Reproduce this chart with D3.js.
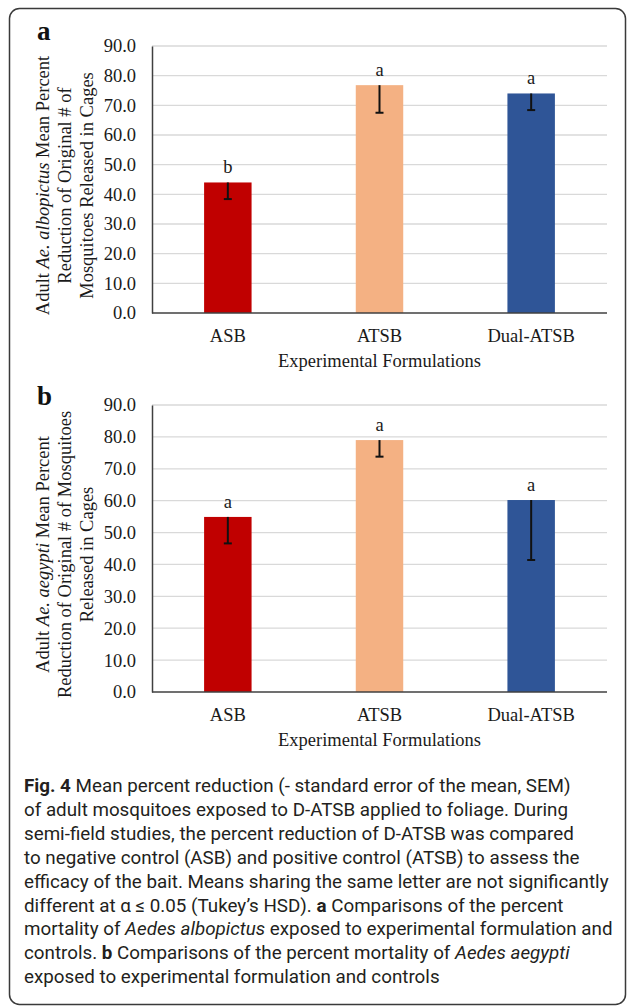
<!DOCTYPE html>
<html>
<head>
<meta charset="utf-8">
<script src="https://cdn.jsdelivr.net/npm/d3@7"></script>
<style>
  html, body { margin: 0; padding: 0; background: #fff; }
  svg { display: block; }
</style>
</head>
<body>
<div id="chart"></div>
<script>
const categories = ['ASB', 'ATSB', 'Dual-ATSB'];
const barColors = ['#C00000', '#F4B183', '#2F5597'];
const yTicks = [0, 10, 20, 30, 40, 50, 60, 70, 80, 90];

// panel a: Ae. albopictus
const albopictusMeans = [44.0, 76.8, 74.0];
const albopictusSem = [5.6, 9.3, 5.6];
const albopictusLetters = ['b', 'a', 'a'];

// panel b: Ae. aegypti
const aegyptiMeans = [54.9, 79.0, 60.2];
const aegyptiSem = [8.3, 5.2, 18.8];
const aegyptiLetters = ['a', 'a', 'a'];

const captionLines = [
  [{ t: 'Fig. 4', b: true }, { t: ' Mean percent reduction (- standard error of the mean, SEM)' }],
  [{ t: 'of adult mosquitoes exposed to D-ATSB applied to foliage. During' }],
  [{ t: 'semi-field studies, the percent reduction of D-ATSB was compared' }],
  [{ t: 'to negative control (ASB) and positive control (ATSB) to assess the' }],
  [{ t: 'efficacy of the bait. Means sharing the same letter are not significantly' }],
  [{ t: 'different at α ≤ 0.05 (Tukey’s HSD). ' }, { t: 'a', b: true }, { t: ' Comparisons of the percent' }],
  [{ t: 'mortality of ' }, { t: 'Aedes albopictus', i: true }, { t: ' exposed to experimental formulation and' }],
  [{ t: 'controls. ' }, { t: 'b', b: true }, { t: ' Comparisons of the percent mortality of ' }, { t: 'Aedes aegypti', i: true }],
  [{ t: 'exposed to experimental formulation and controls' }]
];

const width = 627;
const height = 1008;
const serif = '"Liberation Serif", "Times New Roman", serif';
const serifSize = '18.5px';

const svg = d3.select('#chart')
  .append('svg')
  .attr('width', width)
  .attr('height', height);

svg.append('rect')
  .attr('x', 9.5)
  .attr('y', 8.5)
  .attr('width', 616)
  .attr('height', 996)
  .attr('rx', 10)
  .attr('fill', '#fff')
  .attr('stroke', '#3a3a3a')
  .attr('stroke-width', 1.5);

const panels = [
  {
    tag: 'a', tagY: 40, top: 46, bottom: 313,
    means: albopictusMeans, sem: albopictusSem, letters: albopictusLetters,
    title: [
      [{ t: 'Adult ' }, { t: 'Ae. albopictus', i: true }, { t: ' Mean Percent' }],
      [{ t: 'Reduction of  Original # of' }],
      [{ t: 'Mosquitoes Released in Cages' }]
    ]
  },
  {
    tag: 'b', tagY: 405, top: 405, bottom: 692,
    means: aegyptiMeans, sem: aegyptiSem, letters: aegyptiLetters,
    title: [
      [{ t: 'Adult ' }, { t: 'Ae. aegypti', i: true }, { t: ' Mean Percent' }],
      [{ t: 'Reduction of Original # of Mosquitoes' }],
      [{ t: 'Released in Cages' }]
    ]
  }
];

const plotLeft = 152;
const plotRight = 607;

function drawPanel(p) {
  const g = svg.append('g');

  const x = d3.scaleBand()
    .domain(categories)
    .range([plotLeft, plotRight])
    .paddingInner(0.687)
    .paddingOuter(0.3435);

  const y = d3.scaleLinear()
    .domain([0, 90])
    .range([p.bottom, p.top]);

  // gridlines
  g.append('g')
    .selectAll('line')
    .data(yTicks.filter(d => d > 0))
    .join('line')
    .attr('x1', plotLeft)
    .attr('x2', plotRight)
    .attr('y1', d => y(d))
    .attr('y2', d => y(d))
    .attr('stroke', '#d9d9d9')
    .attr('stroke-width', 1.3);

  // y axis
  const yAxis = g.append('g')
    .attr('transform', `translate(${plotLeft}, 0)`)
    .call(d3.axisLeft(y).tickValues(yTicks).tickFormat(d3.format('.1f')).tickSize(0).tickPadding(16));
  yAxis.select('.domain').attr('stroke', '#404040').attr('stroke-width', 1.5);
  yAxis.selectAll('text')
    .style('font-family', serif)
    .style('font-size', serifSize)
    .attr('fill', '#1a1a1a');

  // bars
  g.append('g')
    .selectAll('rect')
    .data(categories)
    .join('rect')
    .attr('x', d => x(d))
    .attr('width', x.bandwidth())
    .attr('y', (d, i) => y(p.means[i]))
    .attr('height', (d, i) => y(0) - y(p.means[i]))
    .attr('fill', (d, i) => barColors[i]);

  // error bars (minus SEM only)
  const err = g.append('g').attr('stroke', '#111').attr('stroke-width', 2);
  categories.forEach((c, i) => {
    const cx = x(c) + x.bandwidth() / 2;
    err.append('line')
      .attr('x1', cx).attr('x2', cx)
      .attr('y1', y(p.means[i]))
      .attr('y2', y(p.means[i] - p.sem[i]));
    err.append('line')
      .attr('x1', cx - 4).attr('x2', cx + 4)
      .attr('y1', y(p.means[i] - p.sem[i]))
      .attr('y2', y(p.means[i] - p.sem[i]));
  });

  // significance letters
  g.append('g')
    .selectAll('text')
    .data(categories)
    .join('text')
    .attr('x', d => x(d) + x.bandwidth() / 2)
    .attr('y', (d, i) => y(p.means[i]) - 9)
    .attr('text-anchor', 'middle')
    .style('font-family', serif)
    .style('font-size', serifSize)
    .attr('fill', '#1a1a1a')
    .text((d, i) => p.letters[i]);

  // x axis baseline
  g.append('line')
    .attr('x1', plotLeft)
    .attr('x2', plotRight)
    .attr('y1', y(0))
    .attr('y2', y(0))
    .attr('stroke', '#404040')
    .attr('stroke-width', 1.5);

  // category labels
  g.append('g')
    .selectAll('text')
    .data(categories)
    .join('text')
    .attr('x', d => x(d) + x.bandwidth() / 2)
    .attr('y', y(0) + 29)
    .attr('text-anchor', 'middle')
    .style('font-family', serif)
    .style('font-size', serifSize)
    .attr('fill', '#1a1a1a')
    .text(d => d);

  g.append('text')
    .attr('x', (plotLeft + plotRight) / 2)
    .attr('y', y(0) + 54)
    .attr('text-anchor', 'middle')
    .style('font-family', serif)
    .style('font-size', serifSize)
    .attr('fill', '#1a1a1a')
    .text('Experimental Formulations');

  // y axis title
  const cy = (p.top + p.bottom) / 2 + 6;
  const title = g.append('text')
    .attr('transform', 'rotate(-90)')
    .attr('text-anchor', 'middle')
    .style('font-family', serif)
    .style('font-size', serifSize)
    .attr('fill', '#1a1a1a');
  p.title.forEach((line, li) => {
    line.forEach((part, pi) => {
      const ts = title.append('tspan')
        .style('font-style', part.i ? 'italic' : 'normal')
        .text(part.t);
      if (pi === 0) ts.attr('x', -cy).attr('y', 49 + li * 22);
    });
  });

  // panel tag
  g.append('text')
    .attr('x', 37)
    .attr('y', p.tagY)
    .style('font-family', serif)
    .style('font-size', '27px')
    .style('font-weight', 'bold')
    .attr('fill', '#111')
    .text(p.tag);
}

panels.forEach(drawPanel);

// caption
const cap = svg.append('g')
  .style('font-family', 'Roboto, "Noto Sans", sans-serif')
  .attr('fill', '#231f20');

let capSize = 17;
const capTexts = captionLines.map((line, li) => {
  const t = cap.append('text')
    .attr('x', 24)
    .attr('y', 792 + li * 23.9)
    .style('font-size', capSize + 'px');
  line.forEach(part => {
    t.append('tspan')
      .style('font-weight', part.b ? 'bold' : 'normal')
      .style('font-style', part.i ? 'italic' : 'normal')
      .text(part.t);
  });
  return t;
});

// fit the widest line to the measured width in the figure
const widest = capTexts[6].node().getComputedTextLength();
capSize = capSize * 589 / widest;
capTexts.forEach(t => t.style('font-size', capSize + 'px'));
</script>
</body>
</html>
